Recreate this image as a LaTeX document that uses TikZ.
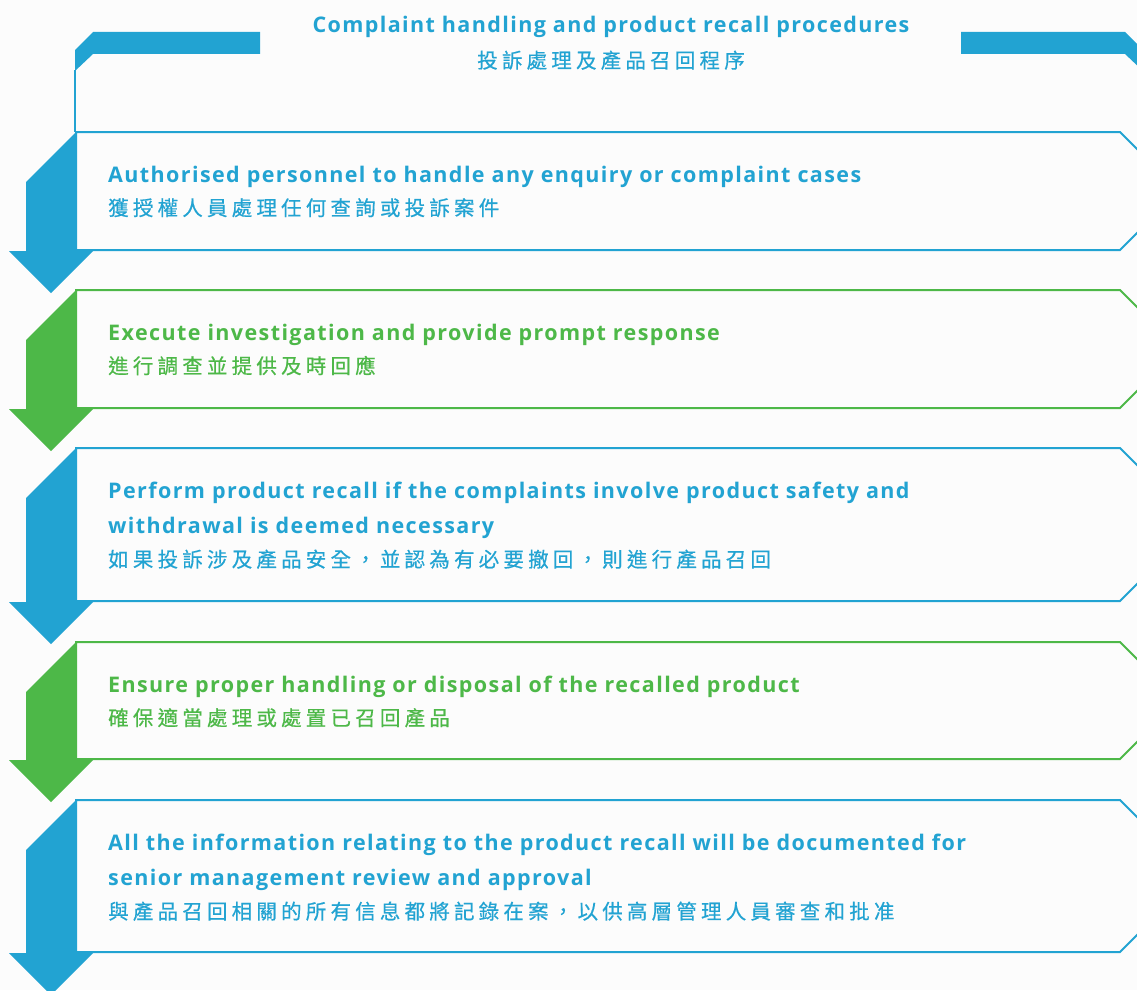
\documentclass[tikz,border=0pt]{standalone}
\usepackage{fontspec}
\newfontfamily\enf{Open Sans}[LetterSpace=6.5]
\newfontfamily\cjk{Noto Sans CJK TC}[LetterSpace=20.5,FakeBold=0.5]
\definecolor{cblue}{HTML}{22A3D2}
\definecolor{cgreen}{HTML}{4DB848}
\definecolor{bg}{HTML}{FCFCFC}
\tikzset{
  en/.style={anchor=base west, inner sep=0pt, font=\enf\bfseries\fontsize{21.5}{25}\selectfont},
  zh/.style={anchor=base west, inner sep=0pt, font=\cjk\fontsize{20.5}{25}\selectfont},
  stepframe/.style={draw=#1, line width=2pt, fill=bg},
  steparrow/.style={fill=#1, draw=none}
}
\begin{document}
\begin{tikzpicture}[x=1pt,y=-1pt]
\useasboundingbox (0,0) rectangle (1137,990);
\fill[bg] (0,0) rectangle (1137,990);
\begin{scope}
\clip (0,0) rectangle (1137,990);
% title banner
\fill[cblue] (75,50) -- (93,32) -- (260,32) -- (260,54) -- (93,54) -- (75,71) -- cycle;
\fill[cblue] (961,32) -- (1125,32) -- (1143,50) -- (1143,71) -- (1125,54) -- (961,54) -- cycle;
\draw[cblue, line width=1.2pt] (75,70) -- (75,132);
% steps: top, bottom, colour
\foreach \t/\b/\c in {132/250/cblue, 290/408/cgreen, 448/601/cblue, 642/759/cgreen, 800/952/cblue}{
  \pgfmathsetmacro{\m}{(\t+\b)/2}
  \pgfmathsetmacro{\h}{(\b-\t)/2}
  \draw[stepframe=\c] (76,\t) -- (1120,\t) -- ({1120+\h},\m) -- (1120,\b) -- (76,\b) -- cycle;
  \fill[steparrow=\c] (76,\t) -- (26,{\t+50}) -- (26,{\b+1}) -- (9,{\b+1}) -- (51,{\b+43}) -- (93,{\b+1}) -- (76,{\b+1}) -- cycle;
}
\end{scope}
% title
\node[anchor=base, inner sep=0pt, text=cblue, font=\enf\bfseries\fontsize{21.5}{25}\selectfont] (title) at (611,33) {Complaint handling and product recall procedures};
\node[anchor=base, inner sep=0pt, text=cblue, font=\cjk\fontsize{20.5}{25}\selectfont] (titlezh) at (611,68) {投訴處理及產品召回程序};
% step 1
\node[en, text=cblue] (s1a) at (108,182) {Authorised personnel to handle any enquiry or complaint cases};
\node[zh, text=cblue] (s1b) at (108,215.5) {獲授權人員處理任何查詢或投訴案件};
% step 2
\node[en, text=cgreen] (s2a) at (108,340) {Execute investigation and provide prompt response};
\node[zh, text=cgreen] (s2b) at (108,373.5) {進行調查並提供及時回應};
% step 3
\node[en, text=cblue] (s3a) at (108,498) {Perform product recall if the complaints involve product safety and};
\node[en, text=cblue] (s3b) at (108,533) {withdrawal is deemed necessary};
\node[zh, text=cblue] (s3c) at (108,567) {如果投訴涉及產品安全，並認為有必要撤回，則進行產品召回};
% step 4
\node[en, text=cgreen] (s4a) at (108,692) {Ensure proper handling or disposal of the recalled product};
\node[zh, text=cgreen] (s4b) at (108,725.5) {確保適當處理或處置已召回產品};
% step 5
\node[en, text=cblue] (s5a) at (108,850) {All the information relating to the product recall will be documented for};
\node[en, text=cblue] (s5b) at (108,885) {senior management review and approval};
\node[zh, text=cblue] (s5c) at (108,919) {與產品召回相關的所有信息都將記錄在案，以供高層管理人員審查和批准};
\end{tikzpicture}
\end{document}
